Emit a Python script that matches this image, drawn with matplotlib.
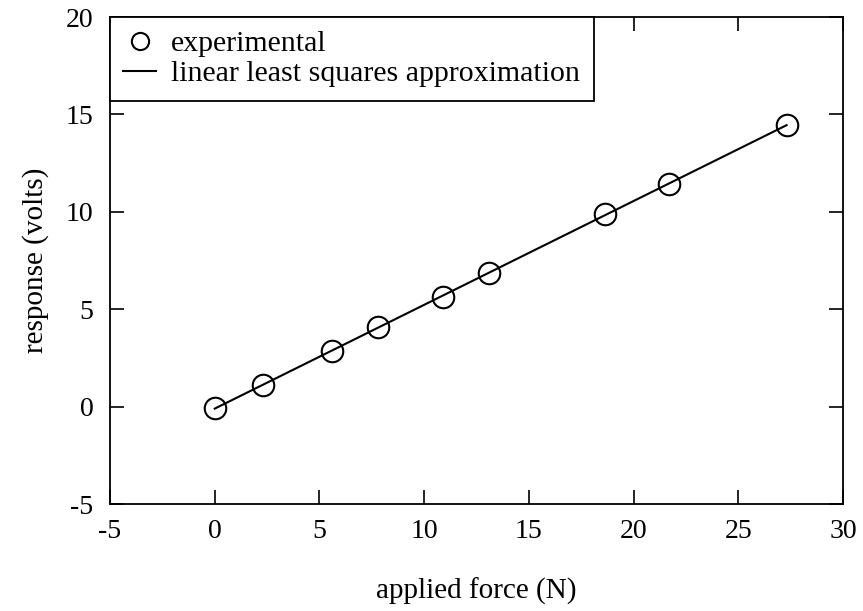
import numpy as np
import matplotlib
matplotlib.use("Agg")
import matplotlib.pyplot as plt

# measured force / response pairs
force = [0.0, 2.3, 5.6, 7.8, 10.9, 13.1, 18.65, 21.7, 27.3]
response = [-0.07, 1.1, 2.88, 4.09, 5.65, 6.86, 9.9, 11.45, 14.45]

plt.rcParams['font.family'] = ['Liberation Serif', 'DejaVu Serif']
plt.rcParams['font.size'] = 20
plt.rcParams['axes.unicode_minus'] = False

# linear least squares fit over the measured range
slope, intercept = np.polyfit(force, response, 1)
fit_x = np.array([min(force), max(force)])
fit_y = slope * fit_x + intercept

fig = plt.figure(figsize=(8.63, 6.11), dpi=100)
ax = fig.add_axes([0.1275, 0.1751, 0.977 - 0.1275, 0.972 - 0.1751])

ax.plot(force, response, 'o', mfc='none', mec='black', ms=15.5, mew=1.5,
        label='experimental', zorder=3)
ax.plot(fit_x, fit_y, '-', color='black', lw=1.5,
        label='linear least squares approximation')

ax.set_xlim(-5, 30)
ax.set_ylim(-5, 20)
ax.set_xticks(range(-5, 31, 5))
ax.set_yticks(range(-5, 21, 5))
ax.tick_params(direction='in', length=10, width=1.2, top=True, right=True,
               labelsize=20)
ax.tick_params(axis='x', pad=11)
ax.tick_params(axis='y', pad=12)
for s in ax.spines.values():
    s.set_linewidth(1.3)

ax.set_xlabel('applied force (N)', fontsize=21, labelpad=24)
ax.set_ylabel('response (volts)', fontsize=21, labelpad=12)

leg = ax.legend(loc='upper left', bbox_to_anchor=(0, 1), borderaxespad=0,
                fancybox=False, edgecolor='black', framealpha=1,
                handlelength=1.1, handletextpad=0.5, labelspacing=0.1,
                markerscale=0.8, fontsize=21.5, borderpad=0.45)
leg.get_frame().set_linewidth(1.3)

fig.savefig('out.png', dpi=100)
